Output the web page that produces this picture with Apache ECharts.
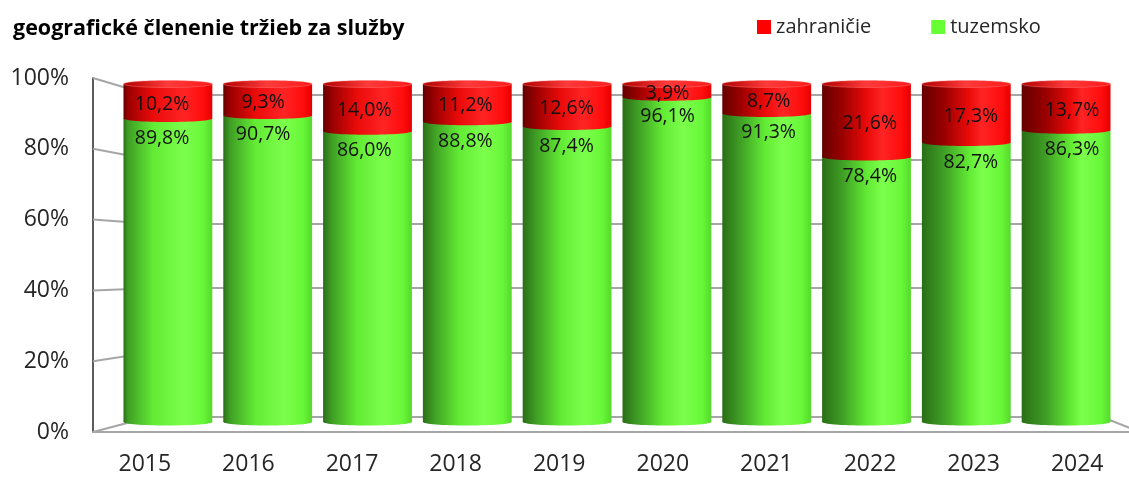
<!DOCTYPE html>
<html>
<head>
<meta charset="utf-8">
<script src="https://cdn.jsdelivr.net/npm/echarts@6/dist/echarts.min.js"></script>
<style>
html,body{margin:0;padding:0;background:#fff;}
#chart{width:1129px;height:477px;}
</style>
</head>
<body>
<div id="chart"></div>
<script>
const titleText = 'geografické členenie tržieb za služby';
const years = ['2015','2016','2017','2018','2019','2020','2021','2022','2023','2024'];
const tuzemsko = [89.8, 90.7, 86.0, 88.8, 87.4, 96.1, 91.3, 78.4, 82.7, 86.3];
const zahranicie = [10.2, 9.3, 14.0, 11.2, 12.6, 3.9, 8.7, 21.6, 17.3, 13.7];
const yTicks = [0, 20, 40, 60, 80, 100];

const FONT = '"Open Sans", "Liberation Sans", sans-serif';
const FRONT = {left: 93, right: -11, top: 78, bottom: 45};
const BACK = {left: 150, right: 27, top: 95, bottom: 60};
const BARS = {left: 118, right: 13, top: 84, bottom: 55};

const chart = echarts.init(document.getElementById('chart'), null, {renderer: 'canvas'});

function fmt(v){ return v.toFixed(1).replace('.', ',') + '%'; }

function greenGrad(i){
  const d = 0.05 + i * 0.025;
  return new echarts.graphic.LinearGradient(0,0,1,0,[
    {offset:0, color:'#2a6e16'},
    {offset:d, color:'#3f9e25'},
    {offset:Math.min(0.28 + d, 0.6), color:'#62ea34'},
    {offset:0.68, color:'#7cff4c'},
    {offset:0.9, color:'#68f738'},
    {offset:1, color:'#55d82c'}
  ]);
}
function redGrad(i){
  const d = 0.05 + i * 0.025;
  return new echarts.graphic.LinearGradient(0,0,1,0,[
    {offset:0, color:'#640000'},
    {offset:d, color:'#9a0000'},
    {offset:Math.min(0.28 + d, 0.6), color:'#ea0a0a'},
    {offset:0.68, color:'#ff2424'},
    {offset:0.9, color:'#ff0c0c'},
    {offset:1, color:'#e40000'}
  ]);
}
function capGrad(){
  return new echarts.graphic.LinearGradient(0,0,1,0,[
    {offset:0, color:'#b00000'},
    {offset:0.5, color:'#ff3a3a'},
    {offset:1, color:'#ff1a1a'}
  ]);
}

// stacked data: [index, base, top, value]
const greenData = tuzemsko.map((v,i)=>[i, 0, v, v]);
const redData = zahranicie.map((v,i)=>[i, tuzemsko[i], tuzemsko[i] + v, v]);

function makeCylinder(isTop){
  return function(params, api){
    const i = api.value(0);
    const base = api.value(1), top = api.value(2), val = api.value(3);
    const pB = api.coord([i, base]);
    const pT = api.coord([i, Math.min(top, 100)]);
    const w = api.size([1, 0])[0] * 0.89;
    const cx = pB[0];
    const x0 = cx - w / 2;
    const rx = w / 2, ry = 3.5;
    const fill = isTop ? redGrad(i) : greenGrad(i);
    const children = [
      {type:'rect', shape:{x:x0, y:pT[1], width:w, height:pB[1]-pT[1]}, style:{fill:fill}},
      {type:'ellipse', shape:{cx:cx, cy:pB[1], rx:rx, ry:ry}, style:{fill:fill}}
    ];
    if (isTop) {
      children.push({type:'ellipse', shape:{cx:cx, cy:pT[1], rx:rx, ry:ry}, style:{fill:capGrad(), stroke:'rgba(255,120,120,0.6)', lineWidth:0.8}});
    }
    const lx = cx + (i - 4.5) * 1.3;
    let ly;
    if (isTop) ly = (pT[1] + pB[1]) / 2 + 3;
    else ly = pT[1] + ry + 16;
    children.push({type:'text', z2: 10, style:{text: fmt(val), x: lx, y: ly, fill:'#111', fontSize: 19.5, fontFamily: FONT, align:'center', verticalAlign:'middle'}});
    return {type:'group', children: children};
  };
}

function renderDiag(params, api){
  const v = api.value(0);
  const side = api.value(1);
  const cs = params.coordSys;
  const yB = api.coord([0, v])[1];
  const yF = chart.convertToPixel({yAxisIndex: 0}, v);
  const W = api.getWidth();
  let x1, y1, x2, y2;
  if (side === 0) { x1 = FRONT.left; y1 = yF; x2 = cs.x; y2 = yB; }
  else { x1 = cs.x + cs.width; y1 = yB; x2 = W - FRONT.right; y2 = yF; }
  return {type:'line', shape:{x1:x1, y1:y1, x2:x2, y2:y2}, style:{stroke:'#a6a6a6', lineWidth:2}};
}

const diagData = yTicks.map(v => [v, 0]).concat([[0, 1]]);

const option = {
  backgroundColor: '#ffffff',
  animation: false,
  title: {
    text: titleText, left: 8, top: 13,
    textStyle: {fontSize: 21.5, fontWeight: 'bold', color: '#000', fontFamily: FONT}
  },
  legend: {
    data: [
      {name:'zahraničie', itemStyle:{color:'#ff0000'}},
      {name:'tuzemsko', itemStyle:{color:'#66ff33'}}
    ],
    left: 752, top: 12, icon: 'rect', itemWidth: 14, itemHeight: 14, itemGap: 60,
    textStyle: {fontSize: 20, color: '#262626', fontFamily: FONT}
  },
  grid: [
    {left: FRONT.left, right: FRONT.right, top: FRONT.top, bottom: FRONT.bottom},
    {left: BACK.left, right: BACK.right, top: BACK.top, bottom: BACK.bottom},
    {left: BARS.left, right: BARS.right, top: BARS.top, bottom: BARS.bottom}
  ],
  xAxis: [
    {gridIndex: 0, type: 'category', data: years, boundaryGap: true,
     axisLine: {show: true, lineStyle: {color: '#a6a6a6', width: 2}},
     axisTick: {show: false},
     axisLabel: {fontSize: 23, color: '#262626', fontFamily: FONT, margin: 21}},
    {gridIndex: 1, type: 'category', data: years, show: false},
    {gridIndex: 2, type: 'category', data: years, show: false}
  ],
  yAxis: [
    {gridIndex: 0, type: 'value', min: 0, max: 100, interval: 20,
     axisLine: {show: true, lineStyle: {color: '#262626', width: 1.5}},
     axisTick: {show: false}, splitLine: {show: false},
     axisLabel: {formatter: '{value}%', fontSize: 23, color: '#262626', fontFamily: FONT, margin: 24}},
    {gridIndex: 1, type: 'value', min: 0, max: 100, interval: 20,
     axisLine: {show: false}, axisTick: {show: false}, axisLabel: {show: false},
     splitLine: {show: true, lineStyle: {color: '#a6a6a6', width: 2}}},
    {gridIndex: 2, type: 'value', min: 0, max: 100, show: false}
  ],
  series: [
    {name: 'diag', type: 'custom', xAxisIndex: 1, yAxisIndex: 1, z: 1, silent: true,
     renderItem: renderDiag, data: diagData},
    {name: 'tuzemsko', type: 'custom', xAxisIndex: 2, yAxisIndex: 2, z: 3,
     itemStyle: {color: '#66ff33'}, renderItem: makeCylinder(false), data: greenData,
     encode: {x: 0, y: [1, 2]}},
    {name: 'zahraničie', type: 'custom', xAxisIndex: 2, yAxisIndex: 2, z: 4,
     itemStyle: {color: '#ff0000'}, renderItem: makeCylinder(true), data: redData,
     encode: {x: 0, y: [1, 2]}}
  ]
};
chart.setOption(option);
</script>
</body>
</html>
